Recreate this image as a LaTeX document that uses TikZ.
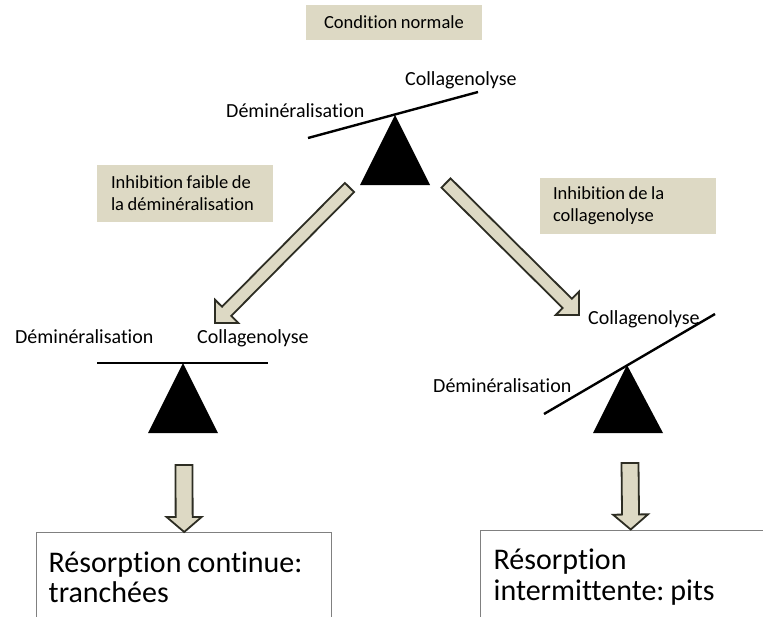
\documentclass[tikz,border=0pt]{standalone}
\usepackage{fontspec}
\setmainfont{Carlito}[Ligatures=NoCommon, WordSpace=0.85]
\usetikzlibrary{calc}
\definecolor{tan}{RGB}{221,217,196}
\definecolor{edge}{RGB}{45,45,35}
\frenchspacing
\tikzset{
  tag/.style={fill=tan, inner sep=0pt, font=\fontsize{18.5}{22}\selectfont},
  lbl/.style={anchor=base west, inner sep=0pt, font=\fontsize{20}{24}\selectfont},
  beam/.style={line width=2.4pt},
  result/.style={draw=gray, line width=1.4pt, fill=white, anchor=north west,
    align=flush left, inner ysep=19pt, font=\fontsize{30}{30.5}\selectfont},
  bigarrow/.style n args={3}{draw=edge, fill=tan, line width=1.8pt, line join=miter,
    to path={let \p1=($(\tikztotarget)-(\tikztostart)$), \n1={atan2(\y1,\x1)},
      \n2={veclen(\x1,\y1)} in
      ([shift={(\tikztostart)},rotate=\n1]0pt,#1pt)
      -- ([shift={(\tikztostart)},rotate=\n1]\n2-#3pt,#1pt)
      -- ([shift={(\tikztostart)},rotate=\n1]\n2-#3pt,#2pt)
      -- ([shift={(\tikztostart)},rotate=\n1]\n2,0pt)
      -- ([shift={(\tikztostart)},rotate=\n1]\n2-#3pt,-#2pt)
      -- ([shift={(\tikztostart)},rotate=\n1]\n2-#3pt,-#1pt)
      -- ([shift={(\tikztostart)},rotate=\n1]0pt,-#1pt) -- cycle}}
}

\begin{document}
\begin{tikzpicture}[x=1pt,y=-1pt]
\useasboundingbox (0,0) rectangle (763,616);
\clip (0,0) rectangle (763,616);

% normal condition
\node[tag, minimum width=176pt, minimum height=35pt] (cond) at (394,22.5) {Condition normale};
\draw[beam] (308,138) -- (478,92);
\fill (395,115) -- (360,185) -- (430,185) -- cycle;
\node[lbl] (demT) at (226,117) {Déminéralisation};
\node[lbl] (colT) at (405,85) {Collagenolyse};

% the two inhibitions
\node[tag, text width=148pt, inner xsep=14pt, minimum height=57pt, align=flush left] (inhL) at (185,193.5) {Inhibition faible de\\la déminéralisation};
\node[tag, text width=150pt, inner xsep=13pt, minimum height=56pt, align=flush left] (inhR) at (628,206) {Inhibition de la\\collagenolyse};

\coordinate (tailL) at (349.5,187.5);
\coordinate (tipL) at (215,323);
\coordinate (tailR) at (446,183);
\coordinate (tipR) at (579,315);
\draw[bigarrow={6.5}{16.5}{16.5}] (tailL) to (tipL);
\draw[bigarrow={6.5}{16.5}{16.5}] (tailR) to (tipR);

% balanced
\draw[beam] (97,363) -- (268,363);
\fill (183,363) -- (148,433) -- (218,433) -- cycle;
\node[lbl] (demL) at (15,343) {Déminéralisation};
\node[lbl] (colL) at (197,343) {Collagenolyse};

% tilted
\draw[beam] (544,414) -- (715,314);
\fill (627,365) -- (593,433) -- (663,433) -- cycle;
\node[lbl] (demR) at (433,392) {Déminéralisation};
\node[lbl] (colR) at (588,324) {Collagenolyse};

% outcomes
\node[result, text width=271pt, inner xsep=12pt] (resL) at (36,532) {Résorption continue:\\tranchées};
\node[result, text width=274pt, inner xsep=13pt] (resR) at (480,529.5) {Résorption\\intermittente: pits};
\coordinate (downL) at (184,465);
\coordinate (downR) at (630,463);
\draw[bigarrow={8.5}{17.5}{15}] (downL) to (resL.north);
\draw[bigarrow={8.5}{17.5}{15}] (downR) to (resR.north);
\end{tikzpicture}
\end{document}
